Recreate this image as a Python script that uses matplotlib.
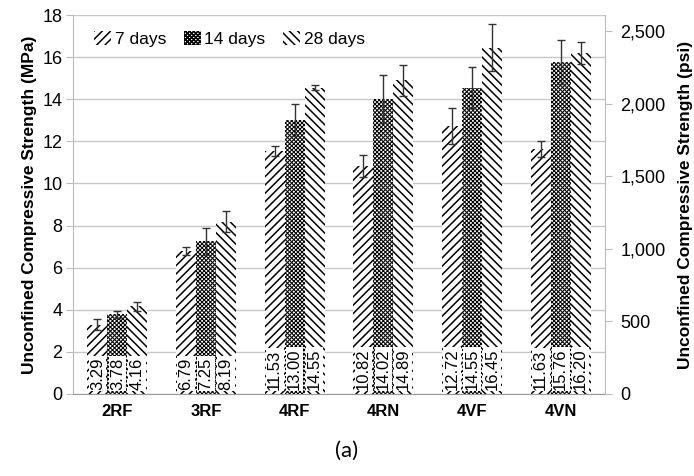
import numpy as np
import matplotlib.pyplot as plt

plt.rcParams['font.family'] = ['Liberation Sans', 'DejaVu Sans']
plt.rcParams['hatch.linewidth'] = 1.1

mixes = ['2RF', '3RF', '4RF', '4RN', '4VF', '4VN']
days = ['7 days', '14 days', '28 days']
d7 = [3.29, 6.79, 11.53, 10.82, 12.72, 11.63]
d14 = [3.78, 7.25, 13.00, 14.02, 14.55, 15.76]
d28 = [4.16, 8.19, 14.55, 14.89, 16.45, 16.20]
e7 = [0.25, 0.2, 0.25, 0.53, 0.87, 0.39]
e14 = [0.15, 0.65, 0.75, 1.13, 0.98, 1.06]
e28 = [0.2, 0.5, 0.12, 0.74, 1.13, 0.52]

series = [d7, d14, d28]
errs = [e7, e14, e28]
hatches = ['////', 'xxxxxxxx', '\\\\\\\\']
hatch_lw = [1.1, 0.75, 1.1]

fig = plt.figure(figsize=(6.94, 4.76), dpi=100)
ax = fig.add_axes([73 / 694, 1 - 394 / 476, 532 / 694, 379 / 476])

x = np.arange(len(mixes))
w = 0.225
for i in range(3):
    pos = x + (i - 1) * w
    bars = ax.bar(pos, series[i], w, color='white', edgecolor='black', linewidth=0,
                  hatch=hatches[i], label=days[i], zorder=2)
    for b in bars:
        if hasattr(b, 'set_hatch_linewidth'):
            b.set_hatch_linewidth(hatch_lw[i])
    ax.errorbar(pos, series[i], yerr=errs[i], fmt='none', ecolor='#333333',
                elinewidth=1, capsize=3, capthick=1, zorder=3)
    for p, v in zip(pos, series[i]):
        ax.text(p, 0.2, f'{v:.2f}', rotation=90, ha='center', va='bottom',
                fontsize=12, zorder=4,
                bbox=dict(facecolor='white', edgecolor='none', pad=1.0))

ax.set_xlim(-0.5, len(mixes) - 0.5)
ax.set_ylim(0, 18)
ax.set_yticks(range(0, 19, 2))
ax.set_xticks(x)
ax.set_xticklabels(mixes, fontweight='bold', fontsize=12)
ax.tick_params(axis='x', length=0, pad=7)
ax.tick_params(axis='y', labelsize=13, length=5, pad=2.5, color='#bbbbbb')
ax.grid(axis='y', color='#c8c8c8', linewidth=1, zorder=0)
ax.set_axisbelow(True)
for s in ['top', 'right']:
    ax.spines[s].set_visible(False)
ax.spines['left'].set_color('#bbbbbb')
ax.spines['bottom'].set_color('#999999')
ax.set_ylabel('Unconfined Compressive Strength (MPa)', fontweight='bold',
              fontsize=12.5, labelpad=4)

ax2 = ax.twinx()
ax2.set_ylim(0, 18 * 145.038)
ax2.set_yticks(range(0, 2501, 500))
ax2.set_yticklabels(['0', '500', '1,000', '1,500', '2,000', '2,500'])
ax2.tick_params(axis='y', labelsize=13, length=5, pad=6, color='#bbbbbb')
for s in ['top', 'left', 'bottom']:
    ax2.spines[s].set_visible(False)
ax2.spines['right'].set_color('#bbbbbb')
ax2.set_ylabel('Unconfined Compressive Strength (psi)', fontweight='bold',
               fontsize=12.5, labelpad=9)

ax.legend(loc='upper left', ncol=3, frameon=False, fontsize=12.5,
          handlelength=1.0, handleheight=0.9, handletextpad=0.2, columnspacing=1.0,
          bbox_to_anchor=(0.01, 1.0))

fig.text(0.5, 0.04, '(a)', ha='center', fontsize=16, family='Lato')

fig.savefig('out.png', dpi=100)
